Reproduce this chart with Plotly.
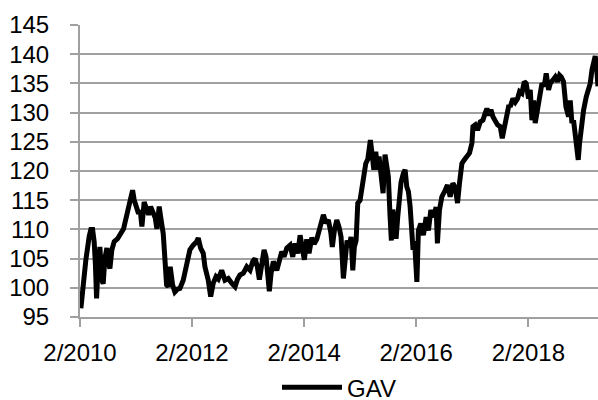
import datetime as dt
import plotly.graph_objects as go

# Time (decimal years) and GAV values
t_years = [
    2010.101, 2010.131, 2010.145, 2010.190, 2010.249, 2010.279, 2010.310, 2010.338, 2010.360, 2010.381,
    2010.404, 2010.428, 2010.440, 2010.476, 2010.499, 2010.529, 2010.565, 2010.596, 2010.619, 2010.654,
    2010.696, 2010.756, 2010.815, 2010.863, 2010.892, 2010.935, 2010.976, 2011.024, 2011.053, 2011.096,
    2011.131, 2011.160, 2011.190, 2011.231, 2011.274, 2011.310, 2011.346, 2011.392, 2011.428, 2011.458,
    2011.499, 2011.535, 2011.571, 2011.606, 2011.631, 2011.660, 2011.696, 2011.738, 2011.779, 2011.828,
    2011.869, 2011.928, 2011.988,
    2012.047, 2012.106, 2012.167, 2012.196, 2012.238, 2012.285, 2012.315, 2012.374, 2012.417, 2012.463,
    2012.512, 2012.553, 2012.613, 2012.672, 2012.731, 2012.792, 2012.851, 2012.892, 2012.940, 2012.999,
    2013.060, 2013.119, 2013.167, 2013.208, 2013.249, 2013.285, 2013.328, 2013.369, 2013.404, 2013.435,
    2013.463, 2013.494, 2013.535, 2013.596, 2013.642, 2013.685, 2013.726, 2013.774, 2013.833, 2013.881,
    2013.922, 2013.971, 2014.012, 2014.053, 2014.088, 2014.131, 2014.172, 2014.221, 2014.262, 2014.310,
    2014.351, 2014.399, 2014.428, 2014.471, 2014.517, 2014.560, 2014.588, 2014.624, 2014.667, 2014.708,
    2014.744, 2014.785, 2014.815, 2014.851, 2014.887, 2014.922, 2014.953, 2014.981, 2015.012, 2015.042,
    2015.083, 2015.113, 2015.154, 2015.185, 2015.221, 2015.244, 2015.267, 2015.303, 2015.328, 2015.363,
    2015.399, 2015.422, 2015.458, 2015.494, 2015.529, 2015.560, 2015.588, 2015.619, 2015.642, 2015.667,
    2015.696, 2015.726, 2015.756, 2015.785, 2015.815, 2015.856, 2015.887, 2015.917, 2015.946, 2015.976,
    2016.006, 2016.029, 2016.056, 2016.087, 2016.097, 2016.110, 2016.124, 2016.167, 2016.213, 2016.262,
    2016.303, 2016.346, 2016.392, 2016.440, 2016.463, 2016.499, 2016.542, 2016.601, 2016.642, 2016.690,
    2016.738, 2016.779, 2016.821, 2016.856, 2016.899, 2016.940, 2016.988, 2017.035, 2017.078, 2017.096,
    2017.137, 2017.178, 2017.226, 2017.274, 2017.315, 2017.346, 2017.381, 2017.417, 2017.453, 2017.494,
    2017.535, 2017.583, 2017.619, 2017.654, 2017.703, 2017.738, 2017.762, 2017.810, 2017.851, 2017.892,
    2017.928, 2017.970, 2018.012, 2018.047, 2018.088, 2018.119, 2018.149, 2018.178, 2018.208, 2018.249,
    2018.285, 2018.328, 2018.369, 2018.404, 2018.446, 2018.476, 2018.524, 2018.565, 2018.606, 2018.642,
    2018.672, 2018.713, 2018.756, 2018.803, 2018.833, 2018.863, 2018.892, 2018.922, 2018.953, 2018.976,
    2018.999, 2019.029, 2019.071, 2019.119, 2019.160, 2019.190, 2019.221, 2019.249, 2019.279, 2019.306,
    2019.328,
]

gav = [
    96.5, 100.2, 99.3, 104.8, 108.8, 110.0, 110.0, 107.9, 104.0, 98.2,
    103.0, 106.5, 107.0, 101.3, 100.7, 105.0, 106.8, 104.2, 103.3, 106.5,
    107.9, 108.4, 109.3, 110.1, 111.3, 113.3, 114.5, 116.7, 115.0, 113.9,
    112.7, 113.3, 110.5, 114.7, 113.3, 112.5, 113.9, 113.0, 112.0, 110.1,
    113.9, 111.5, 109.3, 104.2, 100.5, 100.2, 103.6, 100.5, 99.3, 99.8,
    99.9, 101.3, 103.6,
    106.5, 107.3, 107.9, 108.5, 106.8, 105.9, 103.6, 101.3, 98.5, 100.8,
    101.9, 101.5, 103.0, 101.3, 101.6, 100.8, 100.2, 101.4, 102.2, 102.5,
    103.6, 103.0, 104.5, 105.0, 103.6, 101.4, 104.3, 106.5, 105.3, 102.5,
    99.4, 102.5, 104.5, 103.0, 104.5, 106.2, 105.3, 106.8, 107.3, 105.3,
    107.6, 105.9, 109.0, 107.0, 104.8, 108.3, 105.9, 108.6, 107.5, 108.3,
    109.8, 111.6, 112.5, 111.1, 111.6, 109.5, 107.0, 109.8, 111.6, 110.4,
    108.7, 101.6, 105.9, 108.1, 107.0, 108.7, 103.0, 107.0, 108.1, 114.5,
    115.0, 117.3, 119.3, 121.3, 122.0, 123.6, 125.3, 122.5, 120.2, 123.3,
    120.2, 122.5, 118.5, 116.2, 122.8, 120.2, 119.0, 112.2, 108.1, 113.4,
    110.4, 108.4, 112.2, 116.7, 118.1, 119.6, 120.2, 117.3, 116.5, 114.0,
    110.0, 106.5, 108.0, 103.0, 101.0, 105.0, 109.8, 111.0, 109.0, 112.1,
    109.8, 113.3, 112.1, 113.8, 107.6, 113.3, 115.6, 116.7, 117.6, 115.6,
    117.9, 117.2, 114.5, 117.9, 121.3, 121.9, 122.5, 123.1, 124.8, 127.6,
    127.9, 127.0, 128.4, 128.7, 129.9, 130.7, 129.5, 130.5, 129.3, 128.4,
    127.9, 127.6, 125.6, 127.3, 129.6, 131.3, 131.0, 132.4, 131.8, 132.4,
    133.6, 133.3, 135.3, 135.0, 132.4, 133.9, 128.7, 132.1, 128.2, 130.2,
    132.4, 135.0, 134.5, 136.7, 133.9, 135.0, 135.6, 136.1, 135.3, 136.4,
    136.1, 135.3, 131.0, 129.3, 132.1, 128.2, 128.7, 126.5, 123.6, 121.9,
    124.7, 127.6, 130.4, 132.7, 133.9, 135.0, 137.3, 139.0, 139.7, 137.5,
    134.5,
]

series_name = "GAV"
x_range = ["2010-02-01", "2019-05-01"]
y_range = [95, 145]


def to_date(y):
    year = int(y)
    start = dt.datetime(year, 1, 1)
    end = dt.datetime(year + 1, 1, 1)
    return start + (end - start) * (y - year)


dates = [to_date(t) for t in t_years]

FONT = "Arial, Liberation Sans, sans-serif"
GRID = "#A0A0A0"

fig = go.Figure()
fig.add_trace(go.Scatter(
    x=dates, y=gav, mode="lines", name=series_name,
    line=dict(color="black", width=5),
))

fig.update_layout(
    width=598, height=400,
    margin=dict(l=80, r=0, t=25, b=83, autoexpand=False),
    paper_bgcolor="white", plot_bgcolor="white",
    font=dict(family=FONT, size=24, color="black"),
    showlegend=True,
    legend=dict(
        orientation="h", x=0.5, xanchor="center", y=-0.242, yanchor="middle",
        font=dict(size=24, color="black"), itemwidth=60,
        bgcolor="rgba(0,0,0,0)",
    ),
)

fig.update_xaxes(
    type="date", range=x_range, tick0="2010-02-01", dtick="M24",
    tickformat="%-m/%Y", ticks="outside", ticklen=8, tickwidth=2, tickcolor=GRID,
    showline=True, linecolor=GRID, linewidth=2, showgrid=False, zeroline=False,
    ticklabelstandoff=5, automargin=False,
)
fig.update_yaxes(
    range=y_range, dtick=5, tick0=95, ticks="outside", ticklen=8, tickwidth=2,
    tickcolor=GRID, showline=True, linecolor=GRID, linewidth=2,
    showgrid=True, gridcolor=GRID, gridwidth=2, zeroline=False,
    ticklabelstandoff=16, automargin=False,
)

fig.write_html(
    "out.html",
    config={"displayModeBar": False},
    post_script="document.body.style.margin='0';document.body.style.overflow='hidden';",
)
